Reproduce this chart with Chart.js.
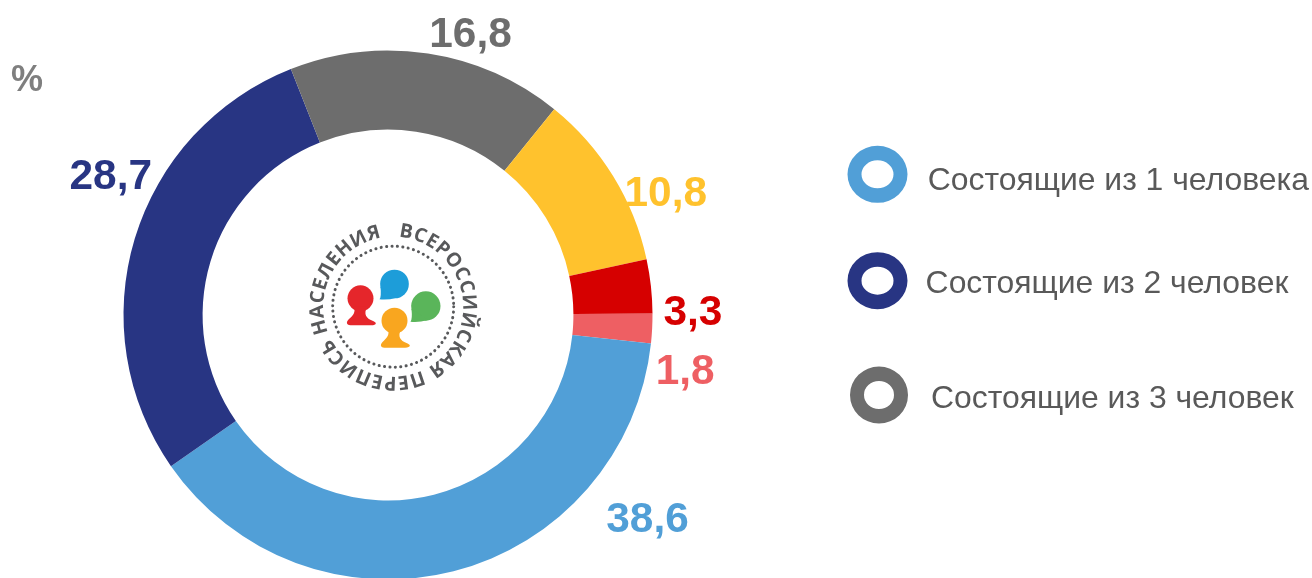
<!DOCTYPE html>
<html><head><meta charset="utf-8">
<script src="https://cdn.jsdelivr.net/npm/chart.js@4"></script>
<style>html,body{margin:0;padding:0;background:#fff;overflow:hidden;width:1312px;height:578px}
#w{position:relative;width:1312px;height:578px;overflow:hidden}canvas{display:block}</style>
</head><body><div id="w"><canvas id="c" width="1312" height="600" style="width:1312px;height:600px"></canvas></div>
<script>
const categories=["1,8","38,6","28,7","16,8","10,8","3,3"];
const values=[1.8,38.6,28.7,16.8,10.8,3.3];
const colors=["#EE5F63","#519FD7","#283583","#6D6D6D","#FFC22D","#D60000"];
const labelOffsets=[[33,44],[194,-51],[-24,-61],[42.5,-18],[52.5,18],[42,27]];
const legendLabels=["Состоящие из 1 человека","Состоящие из 2 человек","Состоящие из 3 человек"];
const legendColors=["#519FD7","#283583","#6D6D6D"];
const unitLabel="%";
const logoText="ВСЕРОССИЙСКАЯ ПЕРЕПИСЬ НАСЕЛЕНИЯ";

function person(ctx,x,y,color){
  ctx.fillStyle=color;ctx.beginPath();ctx.arc(x,y,39,0,Math.PI*2);ctx.fill();
  ctx.beginPath();ctx.moveTo(x-20,y+25);
  ctx.bezierCurveTo(x-14,y+42,x-22,y+50,x-32,y+60);
  ctx.bezierCurveTo(x-44,y+70,x-44,y+80,x-30,y+81);
  ctx.lineTo(x+32,y+81);ctx.bezierCurveTo(x+50,y+80,x+50,y+72,x+36,y+67);
  ctx.bezierCurveTo(x+18,y+60,x+8,y+48,x+20,y+25);ctx.closePath();ctx.fill();
}
function bubble(ctx,x,y,r,color){
  ctx.fillStyle=color;ctx.beginPath();ctx.arc(x,y,r,0,Math.PI*2);ctx.fill();
  ctx.beginPath();ctx.moveTo(x-r+1,y+8);ctx.quadraticCurveTo(x-r+4,y+r-4,x-r-2,y+r+3);
  ctx.quadraticCurveTo(x-r+22,y+r+6,x+6,y+r-2);ctx.closePath();ctx.fill();
}
const art={id:'art',afterDatasetsDraw(chart){
  const ctx=chart.ctx,meta=chart.getDatasetMeta(0);
  ctx.save();
  ctx.font='bold 42.4px "Liberation Sans"';ctx.textAlign='center';ctx.textBaseline='middle';
  meta.data.forEach((a,i)=>{
    const mid=(a.startAngle+a.endAngle)/2;
    const x=a.x+a.outerRadius*Math.cos(mid)+labelOffsets[i][0];
    const y=a.y+a.outerRadius*Math.sin(mid)+labelOffsets[i][1];
    ctx.fillStyle=colors[i];ctx.fillText(categories[i],x,y);
  });
  ctx.font='bold 36px "Liberation Sans"';ctx.fillStyle='#7F7F7F';ctx.fillText(unitLabel,27,81);
  const rings=[[877.5,174.3],[877.5,280.7],[879,395]],texts=[[927.7,190],[925.6,292.7],[931,407.7]];
  ctx.textAlign='left';ctx.textBaseline='alphabetic';ctx.font='31.9px "Liberation Sans"';
  legendLabels.forEach((t,i)=>{
    ctx.fillStyle=legendColors[i];ctx.beginPath();
    ctx.ellipse(rings[i][0],rings[i][1],i==2?29:30,28.5,0,0,Math.PI*2);
    ctx.ellipse(rings[i][0],rings[i][1],i==2?15:16,14,0,0,Math.PI*2);ctx.fill('evenodd');
    ctx.fillStyle='#595959';ctx.fillText(t,texts[i][0],texts[i][1]);
  });
  const a0=meta.data[0],cx=a0.x+5.2,cy=a0.y-8.3;
  ctx.translate(cx,cy);
  ctx.strokeStyle='#58595B';ctx.lineWidth=3;ctx.lineCap='round';ctx.setLineDash([0.1,5.35]);
  ctx.beginPath();ctx.arc(0,0,60.5,0,Math.PI*2);ctx.stroke();ctx.setLineDash([]);
  ctx.fillStyle='#58595B';ctx.font='bold 19.5px "Open Sans"';ctx.textAlign='center';
  const gap=0.8,R=70;
  const ws=[...logoText].map(ch=>ctx.measureText(ch).width+gap);
  const total=ws.reduce((p,q)=>p+q,0);
  const sweep=Math.PI*2*(346/360);
  let ang=4.4*Math.PI/180;
  [...logoText].forEach((ch,i)=>{
    const d=ws[i]/total*sweep;
    const m=ang+d/2;
    ctx.save();ctx.rotate(m);ctx.translate(0,-R);ctx.fillText(ch,0,0);ctx.restore();
    ang+=d;
  });
  ctx.restore();ctx.save();
  ctx.translate(cx-102.7,cy-106.7);ctx.scale(1/3,1/3);
  bubble(ctx,312,252,43,'#1D9DD9');
  bubble(ctx,406,318,44,'#5AB55A');
  person(ctx,210,295,'#E5262B');
  person(ctx,312,362,'#F9A61F');
  ctx.restore();
}};
new Chart(document.getElementById('c'),{
  type:'doughnut',
  data:{labels:categories,datasets:[{data:values,backgroundColor:colors,borderWidth:0}]},
  options:{responsive:false,animation:false,rotation:89.7,cutout:'70.1%',
    layout:{padding:{left:123,right:659,top:50.5,bottom:20.5}},
    plugins:{legend:{display:false},tooltip:{enabled:false},title:{display:false}}},
  plugins:[art]
});
</script></body></html>
